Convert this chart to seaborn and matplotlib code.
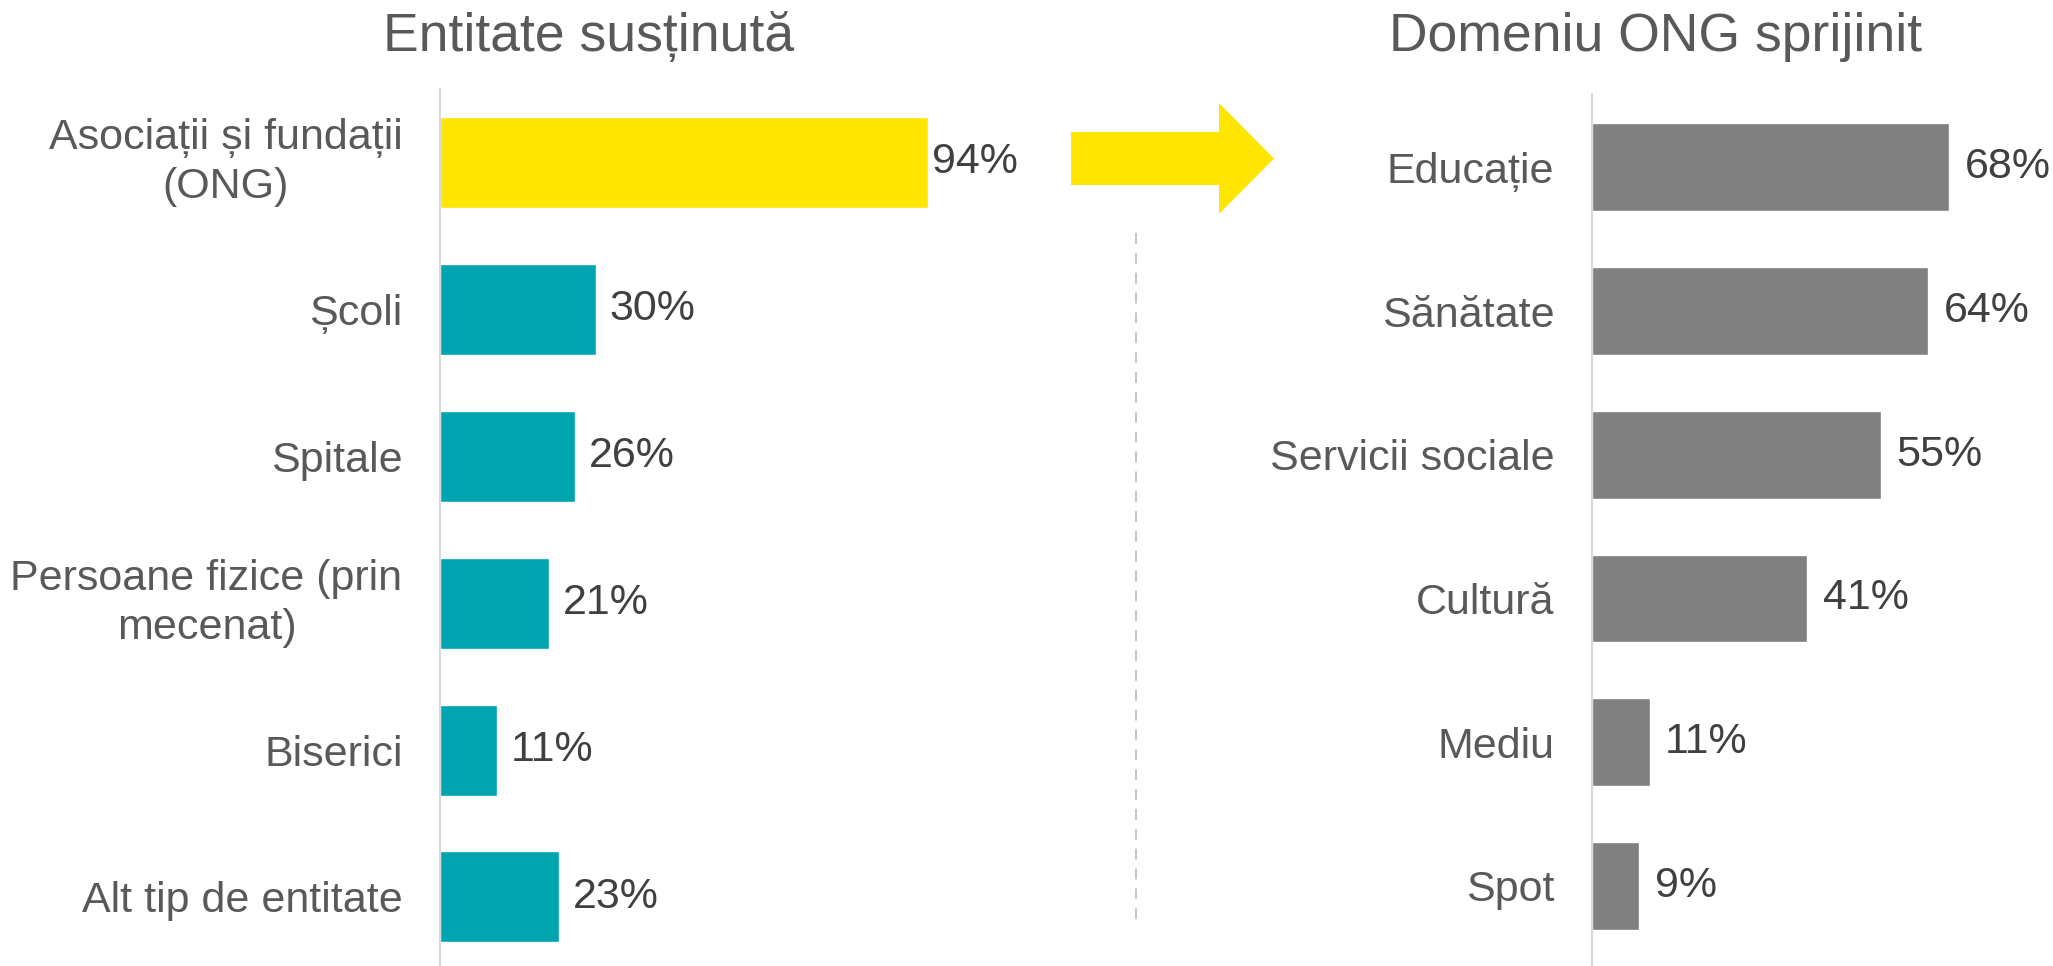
import matplotlib
matplotlib.use("Agg")
import matplotlib.pyplot as plt
import seaborn as sns
import pandas as pd
from matplotlib.patches import FancyArrow
from matplotlib.lines import Line2D

# Date
entitati = ["Asociații și fundații\n(ONG)", "Școli", "Spitale",
            "Persoane fizice (prin\nmecenat)", "Biserici", "Alt tip de entitate"]
entitati_val = [94, 30, 26, 21, 11, 23]

domenii = ["Educație", "Sănătate", "Servicii sociale", "Cultură", "Mediu", "Spot"]
domenii_val = [68, 64, 55, 41, 11, 9]

titlu_st = "Entitate susținută"
titlu_dr = "Domeniu ONG sprijinit"

GALBEN = "#FFE600"
TEAL = "#00A4AF"
GRI = "#808080"
TEXT = "#595959"
VAL = "#404040"

sns.set_theme(style="white")
plt.rcParams['font.family'] = ['Liberation Sans', 'DejaVu Sans']

fig = plt.figure(figsize=(20.53, 9.66), dpi=100)

df_st = pd.DataFrame({"cat": entitati, "val": entitati_val})
df_dr = pd.DataFrame({"cat": domenii, "val": domenii_val})

# --- panou stanga ---
ax1 = fig.add_axes([440 / 2053, 0.0, 519 / 2053, 1 - 89 / 966])
pal_st = [GALBEN] + [TEAL] * (len(entitati) - 1)
sns.barplot(data=df_st, x="val", y="cat", hue="cat", palette=pal_st, legend=False,
            width=0.62, ax=ax1, saturation=1)
ax1.set_xlim(0, 100)
ax1.set_ylim(5.47, -0.5)

for i, v in enumerate(entitati_val):
    off = 3 if i == 0 else 10
    ax1.annotate(f"{v}%", xy=(v, i), xytext=(off, 0), textcoords="offset points",
                 va="center", ha="left", fontsize=31, color=VAL)

# --- panou dreapta ---
ax2 = fig.add_axes([1592 / 2053, 1 - 965 / 966, 457 / 2053, (965 - 94) / 966])
sns.barplot(data=df_dr, x="val", y="cat", color=GRI, width=0.61, ax=ax2, saturation=1)
ax2.set_xlim(0, 87)
ax2.set_ylim(5.55, -0.51)

for i, v in enumerate(domenii_val):
    ax2.annotate(f"{v}%", xy=(v, i), xytext=(11, 0), textcoords="offset points",
                 va="center", ha="left", fontsize=31, color=VAL)

for ax in (ax1, ax2):
    ax.set_xlabel("")
    ax.set_ylabel("")
    ax.set_xticks([])
    for s in ("top", "right", "bottom"):
        ax.spines[s].set_visible(False)
    ax.spines["left"].set_color("#D9D9D9")
    ax.spines["left"].set_linewidth(1.5)
    ax.tick_params(axis="y", length=0, pad=27, labelsize=31, labelcolor=TEXT)
    ax.patch.set_alpha(0)

for lbl in ax1.get_yticklabels():
    lbl.set_multialignment("center")
    lbl.set_linespacing(1.3)
    if "\n" in lbl.get_text():
        lbl.set_va("center")

# titluri
fig.text(589 / 2053, 1 - 37 / 966, titlu_st, ha="center", va="center", fontsize=38.5, color=TEXT)
fig.text(1656 / 2053, 1 - 37 / 966, titlu_dr, ha="center", va="center", fontsize=38.5, color=TEXT)

# sageata galbena
arrow = FancyArrow(1071 / 2053, 1 - 158.5 / 966, 203 / 2053, 0,
                   width=53 / 966, head_width=111 / 966, head_length=55 / 2053,
                   length_includes_head=True, color=GALBEN, ec="none",
                   transform=fig.transFigure)
fig.patches.append(arrow)

# linie punctata separatoare
fig.lines.append(Line2D([1136 / 2053, 1136 / 2053], [1 - 233 / 966, 1 - 927 / 966],
                        transform=fig.transFigure, color="#BFBFBF", lw=1.3,
                        linestyle=(0, (6, 5))))

fig.savefig("out.png", dpi=100)
